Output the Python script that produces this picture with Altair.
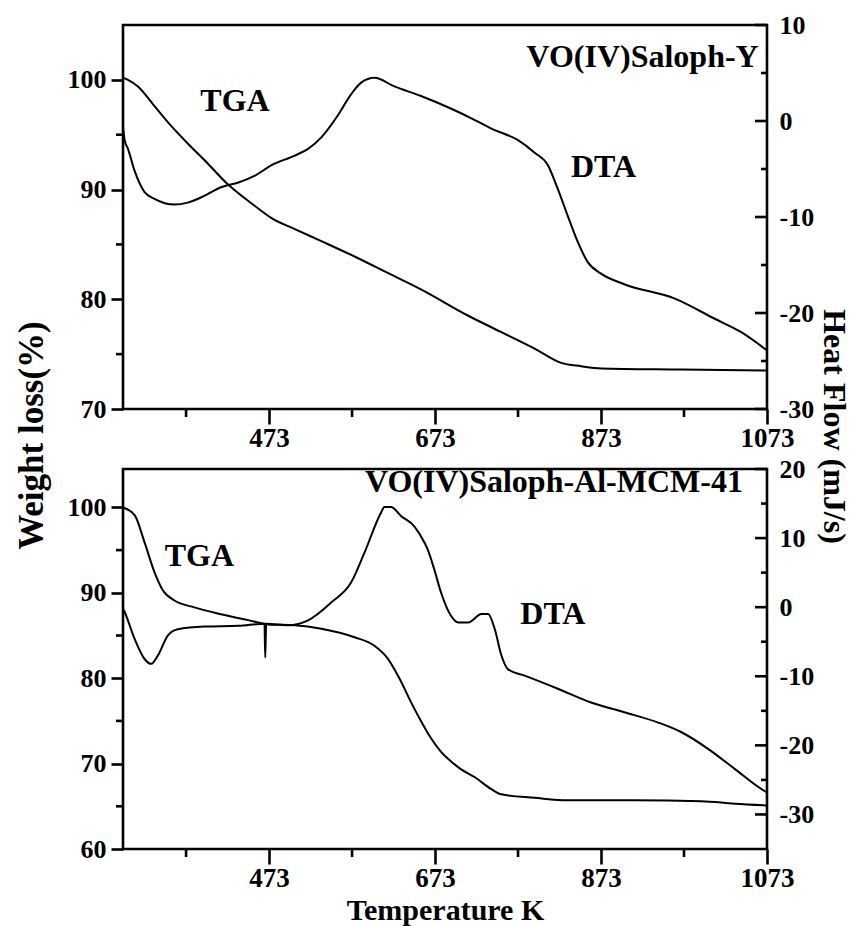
import altair as alt
import pandas as pd

# ---------------- data ----------------
# VO(IV)Saloph-Y : TGA (weight %, left axis) and DTA (heat flow mJ/s, right axis)
top_tga_T = [297, 303, 315, 335, 355, 375, 395, 423, 456, 476, 504, 536, 576, 616, 656,
             713, 753, 793, 825, 849, 873, 970, 1073]
top_tga_W = [100.2, 100.0, 99.4, 97.6, 95.8, 94.2, 92.7, 90.5, 88.5, 87.4, 86.4, 85.3,
             83.9, 82.4, 80.9, 78.5, 77.0, 75.5, 74.2, 73.9, 73.7, 73.6, 73.5]

top_dta_T = [297, 299, 303, 311, 323, 335, 359, 375, 395, 415, 436, 456, 476, 504, 520,
             536, 556, 572, 584, 600, 624, 656, 692, 721, 741, 773, 793, 809, 821, 833,
             845, 857, 873, 901, 962, 1010, 1042, 1073]
top_dta_H = [-0.7, -2.0, -2.9, -5.2, -7.4, -8.1, -8.7, -8.5, -7.8, -6.9, -6.4, -5.7, -4.6,
             -3.6, -2.9, -1.7, 0.6, 2.8, 4.0, 4.5, 3.6, 2.6, 1.3, 0.1, -0.8, -2.0, -3.3,
             -4.6, -7.1, -9.9, -12.6, -14.7, -15.9, -17.0, -18.5, -20.6, -22.0, -23.9]

# VO(IV)Saloph-Al-MCM-41
bot_tga_T = [297, 311, 323, 335, 345, 359, 383, 415, 448, 472, 504, 536, 576, 600, 616,
             630, 644, 656, 668, 680, 693, 705, 721, 741, 753, 793, 833, 913, 994, 1034, 1073]
bot_tga_W = [100.0, 99.1, 95.9, 92.4, 90.3, 89.1, 88.3, 87.5, 86.8, 86.3, 86.2, 85.8,
             84.8, 83.8, 82.3, 80.0, 77.2, 75.0, 73.0, 71.4, 70.2, 69.3, 68.4, 67.0,
             66.4, 66.0, 65.7, 65.7, 65.6, 65.3, 65.1]

bot_dta_T = [297, 299, 311, 323, 331, 339, 351, 363, 395, 436, 467.5, 468.4, 469.5, 496,
             520, 548, 572, 588, 608, 612, 620, 632, 648, 660, 664, 672, 680, 692, 701,
             713, 729, 737, 745, 753, 761, 781, 821, 861, 901, 942, 970, 1002, 1034,
             1066, 1073]
bot_dta_H = [-0.2, -0.7, -4.6, -7.5, -8.2, -7.0, -4.1, -3.2, -2.8, -2.7, -2.4, -7.3, -2.4,
             -2.6, -1.9, 0.7, 3.6, 7.9, 13.7, 14.5, 14.5, 13.2, 11.7, 9.4, 8.4, 5.5, 2.2,
             -1.2, -2.2, -2.2, -1.0, -1.0, -3.2, -7.0, -9.0, -9.9, -11.8, -13.8, -15.2,
             -16.7, -18.1, -20.5, -23.4, -26.3, -26.8]

# axis ticks
x_major = [473, 673, 873, 1073]
x_minor = [373, 573, 773, 973]
top_left_major = [70, 80, 90, 100]
top_left_minor = [75, 85, 95]
top_right_major = [-30, -20, -10, 0, 10]
top_right_minor = [-25, -15, -5, 5]
bot_left_major = [60, 70, 80, 90, 100]
bot_left_minor = [65, 75, 85, 95]
bot_right_major = [-30, -20, -10, 0, 10, 20]
bot_right_minor = [-25, -15, -5, 5, 15]

# in-plot labels
top_tags = ["TGA", "DTA"]
top_tags_T = [432, 876]
top_tags_W = [97.7, 91.7]
top_name = ["VO(IV)Saloph-Y"]
top_name_T = [1063]
top_name_W = [101.7]

bot_tags = ["TGA", "DTA"]
bot_tags_T = [389, 815]
bot_tags_W = [93.9, 87.05]
bot_name = ["VO(IV)Saloph-Al-MCM-41"]
bot_name_T = [1044]
bot_name_W = [102.5]

# ---------------- styling ----------------
FONT = "Liberation Serif"
PLOT_W = 644
X_DOMAIN = [297, 1073]
LW = 2.6
PLAIN = "datum.value + ''"   # plain integers with a hyphen minus


def build_panel(height, tga_T, tga_W, dta_T, dta_H, w_dom, h_dom,
                l_major, l_minor, r_major, r_minor,
                tags, tags_T, tags_W, name, name_T, name_W,
                x_title, left_title, right_title):
    xs = alt.Scale(domain=X_DOMAIN, nice=False, zero=False)
    ws = alt.Scale(domain=w_dom, nice=False, zero=False)
    hs = alt.Scale(domain=h_dom, nice=False, zero=False)

    x_kw = dict(values=x_major, labelExpr=PLAIN, tickSize=15, tickWidth=LW,
                tickColor="black", domain=False, grid=False, labelFont=FONT,
                labelFontSize=27, labelFontWeight="bold", labelColor="black",
                labelPadding=1, labelFlush=False, labelOverlap=False)
    if x_title:
        x_axis = alt.Axis(title=x_title, titleFont=FONT, titleFontSize=30,
                          titleFontWeight="bold", titleColor="black",
                          titleY=70, titleBaseline="alphabetic", **x_kw)
    else:
        x_axis = alt.Axis(title=None, **x_kw)

    l_kw = dict(orient="left", values=l_major, labelExpr=PLAIN, tickSize=12,
                tickWidth=LW, tickColor="black", domain=False, grid=False,
                labelFont=FONT, labelFontSize=26, labelFontWeight="bold",
                labelColor="black", labelPadding=5, labelFlush=False,
                labelOverlap=False)
    if left_title:
        l_axis = alt.Axis(title=left_title, titleFont=FONT, titleFontSize=35,
                          titleFontWeight="bold", titleColor="black",
                          titleAngle=-90, titleX=-92, titleY=410,
                          titleAlign="center", titleBaseline="middle", **l_kw)
    else:
        l_axis = alt.Axis(title=None, **l_kw)

    r_kw = dict(orient="right", values=r_major, labelExpr=PLAIN, ticks=False,
                tickSize=0, domain=False, grid=False, labelFont=FONT,
                labelFontSize=26, labelFontWeight="bold", labelColor="black",
                labelPadding=12, labelFlush=False, labelOverlap=False)
    if right_title:
        r_axis = alt.Axis(title=right_title, titleFont=FONT, titleFontSize=32,
                          titleFontWeight="bold", titleColor="black",
                          titleAngle=90, titleX=66, titleY=401,
                          titleAlign="center", titleBaseline="middle", **r_kw)
    else:
        r_axis = alt.Axis(title=None, **r_kw)

    X = lambda: alt.X("T:Q", scale=xs, axis=x_axis)
    YW = lambda: alt.Y("W:Q", scale=ws, axis=l_axis)
    YH = lambda: alt.Y("H:Q", scale=hs, axis=r_axis)

    tga_line = alt.Chart(pd.DataFrame({"T": tga_T, "W": tga_W})).mark_line(
        color="black", strokeWidth=2, interpolate="monotone"
    ).encode(x=X(), y=YW())

    left_minor = alt.Chart(pd.DataFrame({"W": l_minor})).mark_rule(
        color="black", strokeWidth=LW
    ).encode(y=YW(), x=alt.value(-7), x2=alt.value(0))

    x_minor_ticks = alt.Chart(pd.DataFrame({"T": x_minor})).mark_rule(
        color="black", strokeWidth=LW
    ).encode(x=X(), y=alt.value(height), y2=alt.value(height + 8))

    txt = dict(font=FONT, fontSize=32, fontWeight="bold", color="black",
               baseline="middle", dy=-4)
    tag_text = alt.Chart(pd.DataFrame({"T": tags_T, "W": tags_W, "s": tags})).mark_text(
        align="center", **txt).encode(x=X(), y=YW(), text="s:N")
    name_text = alt.Chart(pd.DataFrame({"T": name_T, "W": name_W, "s": name})).mark_text(
        align="right", **txt).encode(x=X(), y=YW(), text="s:N")

    dta_line = alt.Chart(pd.DataFrame({"T": dta_T, "H": dta_H})).mark_line(
        color="black", strokeWidth=2, interpolate="monotone"
    ).encode(x=X(), y=YH())

    right_major_ticks = alt.Chart(pd.DataFrame({"H": r_major})).mark_rule(
        color="black", strokeWidth=LW
    ).encode(y=YH(), x=alt.value(PLOT_W - 12), x2=alt.value(PLOT_W))
    right_minor_ticks = alt.Chart(pd.DataFrame({"H": r_minor})).mark_rule(
        color="black", strokeWidth=LW
    ).encode(y=YH(), x=alt.value(PLOT_W - 6), x2=alt.value(PLOT_W))

    tga_part = alt.layer(tga_line, left_minor, x_minor_ticks, tag_text, name_text)
    dta_part = alt.layer(dta_line, right_major_ticks, right_minor_ticks)
    return alt.layer(tga_part, dta_part).resolve_scale(y="independent").properties(
        width=PLOT_W, height=height)


top = build_panel(384, top_tga_T, top_tga_W, top_dta_T, top_dta_H, [70, 105], [-30, 10],
                  top_left_major, top_left_minor, top_right_major, top_right_minor,
                  top_tags, top_tags_T, top_tags_W, top_name, top_name_T, top_name_W,
                  None, "Weight loss(%)", "Heat Flow (mJ/s)")
bottom = build_panel(380, bot_tga_T, bot_tga_W, bot_dta_T, bot_dta_H, [60, 104.5], [-35, 20],
                     bot_left_major, bot_left_minor, bot_right_major, bot_right_minor,
                     bot_tags, bot_tags_T, bot_tags_W, bot_name, bot_name_T, bot_name_W,
                     "Temperature K", None, None)

chart = alt.vconcat(top, bottom, spacing=60, bounds="flush").properties(
    padding={"left": 12, "top": 10, "right": 0, "bottom": 0},
    background="white",
).configure_view(stroke="black", strokeWidth=LW).configure_axis(
    labelFontWeight="bold", titleFontWeight="bold"
)

chart.save("out.html", embed_options={"renderer": "svg", "actions": False})
